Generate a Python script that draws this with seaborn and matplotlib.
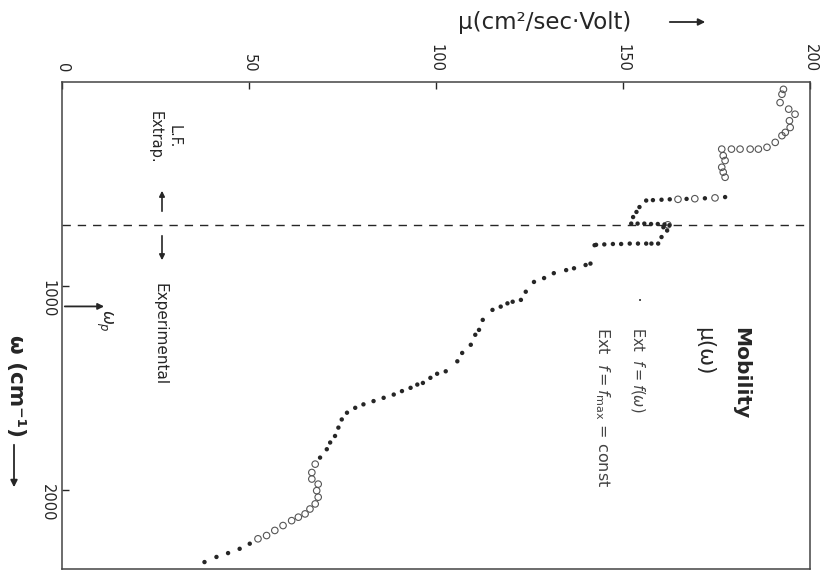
import matplotlib
matplotlib.use("Agg")
import matplotlib.pyplot as plt
import seaborn as sns

# Data: mobility mu (cm^2/sec.Volt) vs frequency omega (cm^-1)
# open circles: Ext f = f_max = const
circ_omega = [36, 60, 101, 133, 158, 190, 223, 247, 263, 296, 320, 329, 329, 329,
              329, 329, 361, 385, 418, 442, 467, 568, 572, 575, 700,
              1873, 1914, 1946, 1971, 2003, 2035, 2068, 2093, 2117, 2133, 2150,
              2174, 2198, 2223, 2239]
circ_mu = [192.9, 192.5, 192.0, 194.3, 196.0, 194.5, 194.7, 193.4, 192.5, 190.7,
           188.5, 186.2, 184.0, 181.3, 179.0, 176.4, 176.8, 177.3, 176.4, 176.8,
           177.3, 174.6, 169.2, 164.7, 162.0,
           67.7, 66.8, 66.8, 68.5, 68.1, 68.5, 67.7, 66.3, 65.0, 63.2, 61.4,
           59.1, 56.9, 54.7, 52.4]

# filled dots: Ext f = f(omega) and experimental points
dot_omega = [564, 570, 573, 575, 577, 579, 581, 613, 637, 662, 694, 694, 694, 696,
             696, 698, 702, 712, 728, 760, 792, 792, 792, 792, 792, 794, 794, 796,
             798, 800, 890, 897, 913, 922, 937, 961, 980, 1028, 1068, 1077, 1085,
             1101, 1117, 1166, 1215, 1239, 1288, 1328, 1369, 1418, 1430, 1450,
             1475, 1483, 1499, 1515, 1532, 1548, 1564, 1580, 1597, 1621, 1654,
             1694, 1735, 1767, 1800, 1841, 2263, 2288, 2309, 2328, 2353]
dot_mu = [177.3, 171.9, 167.0, 162.5, 160.3, 158.0, 156.2, 154.4, 153.6, 152.7,
          152.2, 153.9, 155.7, 157.5, 159.3, 161.1, 162.4, 160.8, 161.8, 160.3,
          159.4, 157.6, 156.2, 154.0, 151.8, 149.5, 147.3, 145.0, 142.8, 142.4,
          141.3, 140.0, 136.9, 134.8, 131.5, 128.9, 126.2, 124.0, 122.7, 120.5,
          119.1, 117.3, 115.1, 112.5, 111.5, 110.5, 109.3, 107.0, 105.7, 102.6,
          100.3, 98.5, 96.5, 95.0, 93.2, 90.9, 88.7, 86.0, 83.3, 80.6, 78.4,
          76.2, 74.8, 73.9, 73.0, 71.7, 70.8, 69.0, 50.2, 47.5, 44.4, 41.3, 38.1]

mu_ticks = [0, 50, 100, 150, 200]
omega_ticks = [1000, 2000]
omega_boundary = 700
omega_p = 1100

sns.set_style("ticks")
plt.rcParams['font.family'] = ['DejaVu Sans']

W, H = 821, 572
fig = plt.figure(figsize=(W / 100, H / 100), dpi=100)
ax = fig.add_axes([62 / W, 3 / H, 748 / W, 487 / H])


def px(x, y):
    return x / W, 1 - y / H


ink = "#262626"

sns.scatterplot(x=circ_mu, y=circ_omega, ax=ax, marker="o", s=22,
                facecolor="none", edgecolor="#555555", linewidth=0.8)
sns.scatterplot(x=dot_mu, y=dot_omega, ax=ax, marker="o", s=10,
                color=ink, edgecolor="none")

ax.axhline(omega_boundary, color=ink, lw=1.0, ls=(0, (6, 5)))

ax.set_xlim(0, 200)
ax.set_ylim(2387, 0)
ax.xaxis.tick_top()
ax.set_xticks(mu_ticks)
ax.set_yticks(omega_ticks)
ax.tick_params(axis="x", direction="in", length=5, width=1, pad=7,
               labelsize=10.5, labelrotation=-90, colors=ink)
ax.tick_params(axis="y", direction="in", length=5, width=1, pad=5,
               labelsize=10.5, labelrotation=-90, colors=ink)
for s in ax.spines.values():
    s.set_visible(True)
    s.set_color("#444444")
    s.set_linewidth(1.1)
ax.set_xlabel("")
ax.set_ylabel("")

# axis titles
fig.text(*px(458, 22), "μ(cm²/sec·Volt)", ha="left", va="center",
         fontsize=16.5, color=ink)
ax.annotate("", xy=px(708, 22), xytext=px(667, 22), xycoords="figure fraction",
            arrowprops=dict(arrowstyle="-|>", lw=1.3, color=ink, mutation_scale=10))
fig.text(*px(16, 335), "ω (cm⁻¹)", rotation=-90, ha="center", va="top",
         fontsize=15.5, fontweight="bold", color=ink)
ax.annotate("", xy=px(14, 490), xytext=px(14, 442), xycoords="figure fraction",
            arrowprops=dict(arrowstyle="-|>", lw=1.3, color=ink, mutation_scale=10))

# region annotations
fig.text(*px(165, 137), "L.F.\nExtrap.", rotation=-90, ha="center", va="center",
         multialignment="center", fontsize=10.5, color=ink, linespacing=1.35)
ax.annotate("", xy=px(162, 188), xytext=px(162, 214), xycoords="figure fraction",
            arrowprops=dict(arrowstyle="-|>", lw=1.2, color=ink, mutation_scale=8))
ax.annotate("", xy=px(162, 263), xytext=px(162, 233), xycoords="figure fraction",
            arrowprops=dict(arrowstyle="-|>", lw=1.2, color=ink, mutation_scale=8))
fig.text(*px(160, 283), "Experimental", rotation=-90, ha="center", va="top",
         fontsize=11, color=ink)

# plasma frequency marker
ax.annotate("", xy=(12, omega_p), xytext=(0, omega_p),
            arrowprops=dict(arrowstyle="-|>", lw=1.3, color=ink, mutation_scale=9))
fig.text(*px(104, 309), r"$\omega_p$", rotation=-90, ha="center", va="top",
         fontsize=12, color=ink)

# legend block
fig.text(*px(741, 327), "Mobility", rotation=-90, ha="center", va="top",
         fontsize=14.5, fontweight="bold", color=ink)
fig.text(*px(704, 327), "μ(ω)", rotation=-90, ha="center", va="top",
         fontsize=15.5, color=ink)
fig.text(*px(637, 300), "•", rotation=-90, ha="center", va="center",
         fontsize=5, color=ink)
fig.text(*px(638, 327), r"Ext  $f = f(\omega)$", rotation=-90, ha="center",
         va="top", fontsize=10.5, color="#444444")
fig.text(*px(602, 327), r"Ext  $f = f_{\rm max}$ = const", rotation=-90,
         ha="center", va="top", fontsize=11.5, color="#444444")

fig.savefig("out.png", dpi=100)
